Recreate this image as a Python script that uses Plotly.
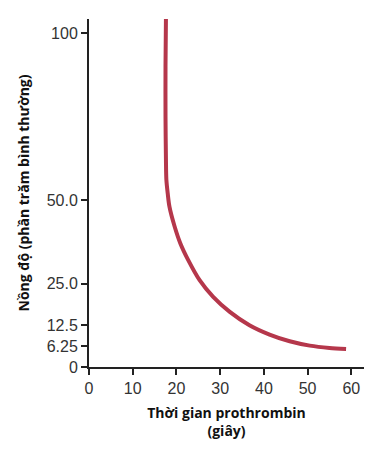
import plotly.graph_objects as go

# Data
pt_seconds = [17.6, 17.5, 17.5, 17.6, 17.7, 18.0, 18.4, 19.6, 20.9, 22.7, 25.3, 28.4, 32.2, 36.7, 41.3, 45.9, 50.5, 55.0, 58.8]
concentration = [104.7, 90, 75, 62, 56, 52, 48, 42, 37, 32, 26, 21, 16.5, 12.5, 9.7, 7.7, 6.4, 5.7, 5.4]

x_ticks = [0, 10, 20, 30, 40, 50, 60]
y_tickvals = [0, 6.25, 12.5, 25, 50, 100]
y_ticktext = ["0", "6.25", "12.5", "25.0", "50.0", "100"]

fig = go.Figure()
fig.add_trace(go.Scatter(
    x=pt_seconds, y=concentration, mode="lines",
    line=dict(color="#B5374B", width=4, shape="spline", smoothing=0.8),
    hoverinfo="skip", showlegend=False,
))

tick_font = dict(family="Liberation Sans, Arial, sans-serif", size=16, color="#333333")
title_font = dict(family="Open Sans, sans-serif", size=14, color="#111111")

fig.update_layout(
    width=378, height=454,
    margin=dict(l=81, r=22, t=11, b=95),
    paper_bgcolor="white", plot_bgcolor="white",
    xaxis=dict(
        range=[0, 62.9], tickvals=x_ticks, ticks="outside", ticklen=6, tickwidth=1.5,
        tickcolor="#222", showline=True, linecolor="#222", linewidth=2,
        showgrid=False, zeroline=False, tickfont=tick_font,
        title=dict(text="<b>Thời gian prothrombin</b><br><b>(giây)</b>", font=title_font, standoff=12),
        automargin=False,
    ),
    yaxis=dict(
        range=[0, 104.2], tickvals=y_tickvals, ticktext=y_ticktext, ticks="outside", ticklen=6,
        tickwidth=1.5, tickcolor="#222", showline=True, linecolor="#222", linewidth=2,
        showgrid=False, zeroline=False, tickfont=tick_font,
        title=dict(text="<b>Nồng độ (phần trăm bình thường)</b>", font=title_font, standoff=14),
        automargin=False,
    ),
)

fig.write_html("out.html")
